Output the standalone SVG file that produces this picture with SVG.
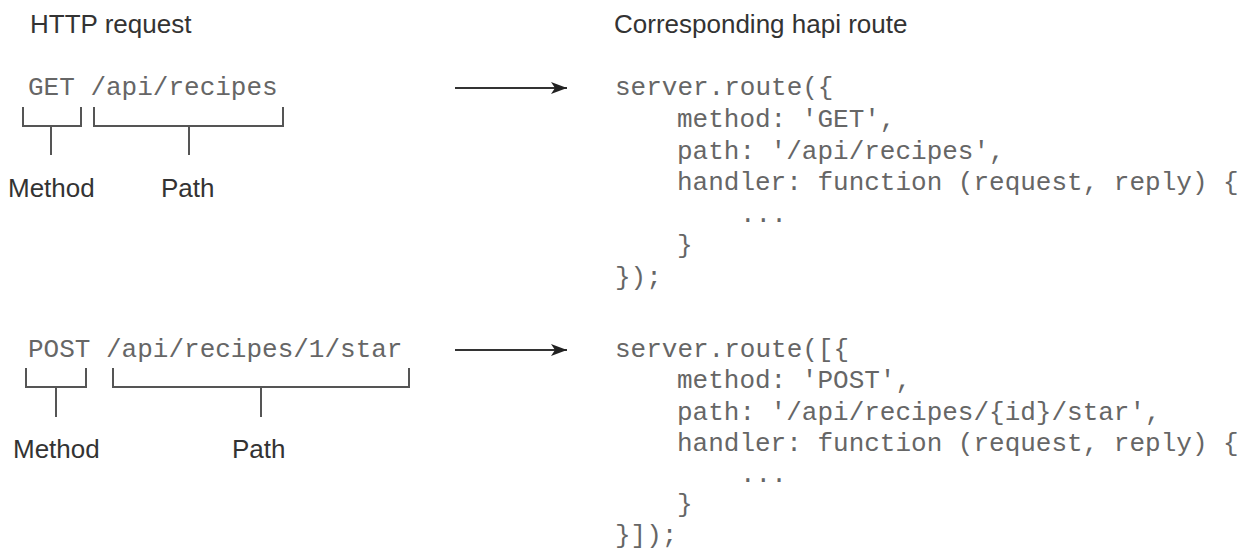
<svg xmlns="http://www.w3.org/2000/svg" width="1255" height="549" viewBox="0 0 1255 549">
  <defs>
    <style>
      .title { font-family: "Liberation Sans", Arial, sans-serif; font-size: 26px; fill: #333; }
      .label { font-family: "Liberation Sans", Arial, sans-serif; font-size: 26px; fill: #333; }
      .code { font-family: "Liberation Mono", "Courier New", monospace; font-size: 26px; fill: #666; }
      .bracket { fill: none; stroke: #555; stroke-width: 2; }
      .arrow { stroke: #333; stroke-width: 2; fill: none; }
    </style>
    <marker id="ah" markerWidth="16" markerHeight="12" refX="16" refY="6" orient="auto" markerUnits="userSpaceOnUse">
      <path d="M0,0 L16,6 L0,12 L4,6 Z" fill="#222"/>
    </marker>
  </defs>
  <rect width="1255" height="549" fill="#fff"/>

  <g id="titles">
    <text class="title" x="30" y="33">HTTP request</text>
    <text class="title" x="614" y="33">Corresponding hapi route</text>
  </g>

  <g id="request-get">
    <text class="code" x="28" y="95">GET /api/recipes</text>
    <path class="bracket" d="M23,107 V126 H81 V107"/>
    <path class="bracket" d="M94,107 V126 H283 V107"/>
    <line class="bracket" x1="51" y1="126" x2="51" y2="155"/>
    <line class="bracket" x1="189" y1="126" x2="189" y2="155"/>
    <text class="label" x="8" y="197">Method</text>
    <text class="label" x="161" y="197">Path</text>
  </g>

  <g id="route-get">
    <text class="code" x="615" y="95">server.route({</text>
    <text class="code" x="677" y="127">method: 'GET',</text>
    <text class="code" x="677" y="159">path: '/api/recipes',</text>
    <text class="code" x="677" y="190">handler: function (request, reply) {</text>
    <text class="code" x="740" y="222">...</text>
    <text class="code" x="677" y="253">}</text>
    <text class="code" x="615" y="285">});</text>
  </g>

  <g id="request-post">
    <text class="code" x="28" y="357">POST /api/recipes/1/star</text>
    <path class="bracket" d="M26,368 V387 H86 V368"/>
    <path class="bracket" d="M113,368 V387 H409 V368"/>
    <line class="bracket" x1="56" y1="387" x2="56" y2="417"/>
    <line class="bracket" x1="261" y1="387" x2="261" y2="417"/>
    <text class="label" x="13" y="458">Method</text>
    <text class="label" x="232" y="458">Path</text>
  </g>

  <g id="route-post">
    <text class="code" x="615" y="357">server.route([{</text>
    <text class="code" x="677" y="388">method: 'POST',</text>
    <text class="code" x="677" y="420">path: '/api/recipes/{id}/star',</text>
    <text class="code" x="677" y="451">handler: function (request, reply) {</text>
    <text class="code" x="740" y="482">...</text>
    <text class="code" x="677" y="512">}</text>
    <text class="code" x="615" y="543">}]);</text>
  </g>

  <g id="connectors">
    <line class="arrow" x1="455" y1="88" x2="567" y2="88" marker-end="url(#ah)"/>
    <line class="arrow" x1="455" y1="350" x2="567" y2="350" marker-end="url(#ah)"/>
  </g>
</svg>
